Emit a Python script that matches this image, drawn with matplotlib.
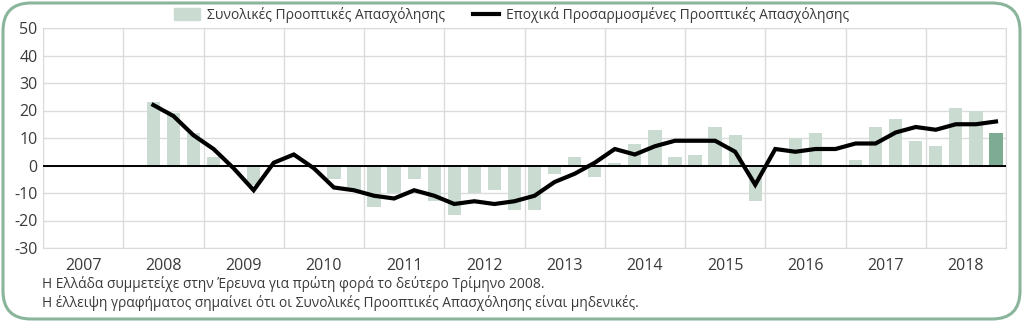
import matplotlib
matplotlib.use("Agg")
import numpy as np
import matplotlib.pyplot as plt
from matplotlib.patches import FancyBboxPatch, Patch
from matplotlib.lines import Line2D
from matplotlib.transforms import IdentityTransform

plt.rcParams['font.family'] = ['Open Sans', 'DejaVu Sans']
plt.rcParams['axes.unicode_minus'] = False

# quarters from Q2 2008 to Q4 2018
years = [2008]*3 + [y for y in range(2009, 2019) for _ in range(4)]
quarters = [2, 3, 4] + [1, 2, 3, 4]*10

# total employment outlook (bars)
total = [23, 19, 12, 3,
         0, -7, 0, 0,
         0, -5, -9, -15,
         -10, -5, -13, -18,
         -10, -9, -16, -16,
         -3, 3, -4, 1,
         8, 13, 3, 4,
         14, 11, -13, 0,
         10, 12, 0, 2,
         14, 17, 9, 7,
         21, 20, 12]
# seasonally adjusted outlook (line)
adjusted = [22, 18, 11, 6,
            -1, -9, 1, 4,
            -1, -8, -9, -11,
            -12, -9, -11, -14,
            -13, -14, -13, -11,
            -6, -3, 1, 6,
            4, 7, 9, 9,
            9, 5, -7, 6,
            5, 6, 6, 8,
            8, 12, 14, 13,
            15, 15, 16]

year_labels = list(range(2007, 2019))
yticks = list(range(-30, 51, 10))

legend_labels = ['Συνολικές Προοπτικές Απασχόλησης',
                 'Εποχικά Προσαρμοσμένες Προοπτικές Απασχόλησης']
notes = ['Η Ελλάδα συμμετείχε στην Έρευνα για πρώτη φορά το δεύτερο Τρίμηνο 2008.',
         'Η έλλειψη γραφήματος σημαίνει ότι οι Συνολικές Προοπτικές Απασχόλησης είναι μηδενικές.']

bar_col = '#cadcd1'
last_col = '#7eab93'
frame_col = '#8ab59b'
txt_col = '#3a3a3a'

x = np.array(years) + (np.array(quarters) - 0.5) / 4

fig = plt.figure(figsize=(10.23, 3.22), dpi=100)
ax = fig.add_axes([43/1023, 74/322, 963/1023, 220/322])

cols = [bar_col]*(len(total) - 1) + [last_col]
ax.bar(x, total, width=0.165, color=cols, zorder=2)
ax.plot(x, adjusted, color='black', lw=3, solid_joinstyle='miter', zorder=4)
ax.axhline(0, color='black', lw=1.4, zorder=3)

ax.set_xlim(2007, 2019)
ax.set_ylim(-30, 50)
ax.set_yticks(yticks)
ax.set_xticks(range(2007, 2020))
ax.set_xticklabels([])
ax.tick_params(length=0, labelsize=11.5, labelcolor=txt_col, pad=4)
ax.grid(True, color='#d9dcda', lw=1, zorder=0)
for s in ax.spines.values():
    s.set_color('#d9dcda')
for yl in year_labels:
    ax.text(yl + 0.5, -33.5, str(yl), ha='center', va='top', fontsize=11.5, color=txt_col)

handles = [Patch(color=bar_col), Line2D([], [], color='black', lw=3)]
fig.legend(handles, legend_labels, loc='center', bbox_to_anchor=(0.5, 1 - 15/322),
           ncol=2, frameon=False, fontsize=10, labelcolor=txt_col, handlelength=1.9,
           handleheight=1.0, columnspacing=2.0, handletextpad=0.5, borderpad=0)

fig.text(42/1023, 1 - 284/322, notes[0], fontsize=9.9, color=txt_col, va='center')
fig.text(42/1023, 1 - 303/322, notes[1], fontsize=9.9, color=txt_col, va='center')

frame = FancyBboxPatch((3, 3), 1017, 316, boxstyle='round,pad=0,rounding_size=28',
                       fill=False, ec=frame_col, lw=2.2, transform=IdentityTransform())
fig.add_artist(frame)

fig.savefig('out.png', dpi=100)
